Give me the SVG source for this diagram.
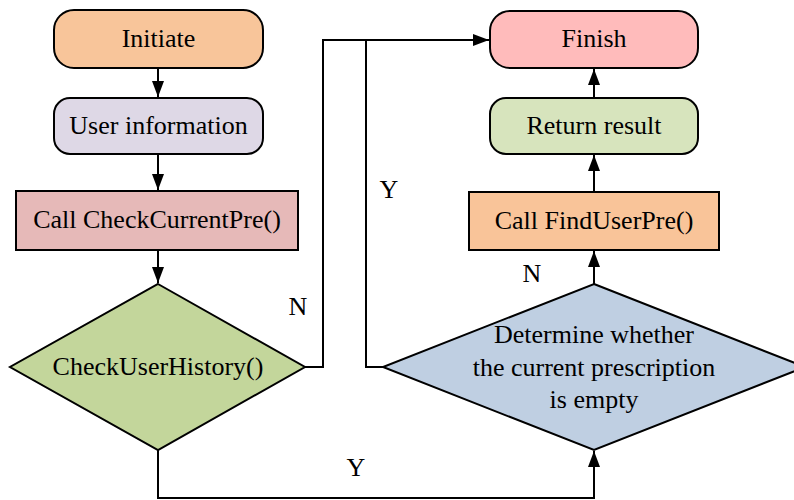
<svg xmlns="http://www.w3.org/2000/svg" width="794" height="500" viewBox="0 0 794 500">
  <defs>
    <marker id="arrow" viewBox="0 0 16 12" refX="16" refY="6" markerWidth="16" markerHeight="12" markerUnits="userSpaceOnUse" orient="auto">
      <path d="M0,0 L16,6 L0,12 Z" fill="#000"/>
    </marker>
  </defs>
  <style>
    .shape { stroke: #000; stroke-width: 2; }
    .lbl { font-family: "Liberation Serif", "Times New Roman", serif; font-size: 26px; fill: #000; text-anchor: middle; dominant-baseline: central; }
    .conn path { fill: none; stroke: #000; stroke-width: 2; }
  </style>
  <rect width="794" height="500" fill="#fff"/>

  <g id="connectors" class="conn">
    <path d="M158,68 V97" marker-end="url(#arrow)"/>
    <path d="M158,154 V190" marker-end="url(#arrow)"/>
    <path d="M158,250 V283" marker-end="url(#arrow)"/>
    <path d="M305,367 H323 V40 H489" marker-end="url(#arrow)"/>
    <path d="M383,367 H366 V40"/>
    <path d="M158,450 V498 H594 V451" marker-end="url(#arrow)"/>
    <path d="M594,284 V251" marker-end="url(#arrow)"/>
    <path d="M594,192 V155" marker-end="url(#arrow)"/>
    <path d="M594,98 V69" marker-end="url(#arrow)"/>
  </g>

  <g id="initiate">
    <rect class="shape" x="54" y="10" width="209" height="58" rx="20" fill="#F8C59A"/>
    <text class="lbl" x="158.5" y="38">Initiate</text>
  </g>
  <g id="user-information">
    <rect class="shape" x="54" y="98" width="209" height="56" rx="16" fill="#DED8E6"/>
    <text class="lbl" x="158.5" y="125">User information</text>
  </g>
  <g id="call-check-current-pre">
    <rect class="shape" x="16" y="191" width="282" height="59" fill="#E6B9B8"/>
    <text class="lbl" x="157" y="219.5">Call CheckCurrentPre()</text>
  </g>
  <g id="check-user-history">
    <polygon class="shape" points="158,284 305,367 158,450 10,367" fill="#C3D69B"/>
    <text class="lbl" x="158" y="366">CheckUserHistory()</text>
  </g>
  <g id="finish">
    <rect class="shape" x="490" y="11" width="208" height="57" rx="20" fill="#FFBBBB"/>
    <text class="lbl" x="594" y="38">Finish</text>
  </g>
  <g id="return-result">
    <rect class="shape" x="490" y="98" width="208" height="56" rx="16" fill="#D7E4BD"/>
    <text class="lbl" x="594" y="125">Return result</text>
  </g>
  <g id="call-find-user-pre">
    <rect class="shape" x="469" y="192" width="250" height="58" fill="#F9C499"/>
    <text class="lbl" x="594" y="220">Call FindUserPre()</text>
  </g>
  <g id="prescription-empty">
    <polygon class="shape" points="594,284 805,367 594,450 383,367" fill="#BFCFE2"/>
    <text class="lbl" x="594" y="334">Determine whether</text>
    <text class="lbl" x="594" y="367">the current prescription</text>
    <text class="lbl" x="594" y="399">is empty</text>
  </g>

  <g id="labels">
    <text class="lbl" x="298" y="306">N</text>
    <text class="lbl" x="389" y="189">Y</text>
    <text class="lbl" x="532" y="273">N</text>
    <text class="lbl" x="356" y="467">Y</text>
  </g>
</svg>
